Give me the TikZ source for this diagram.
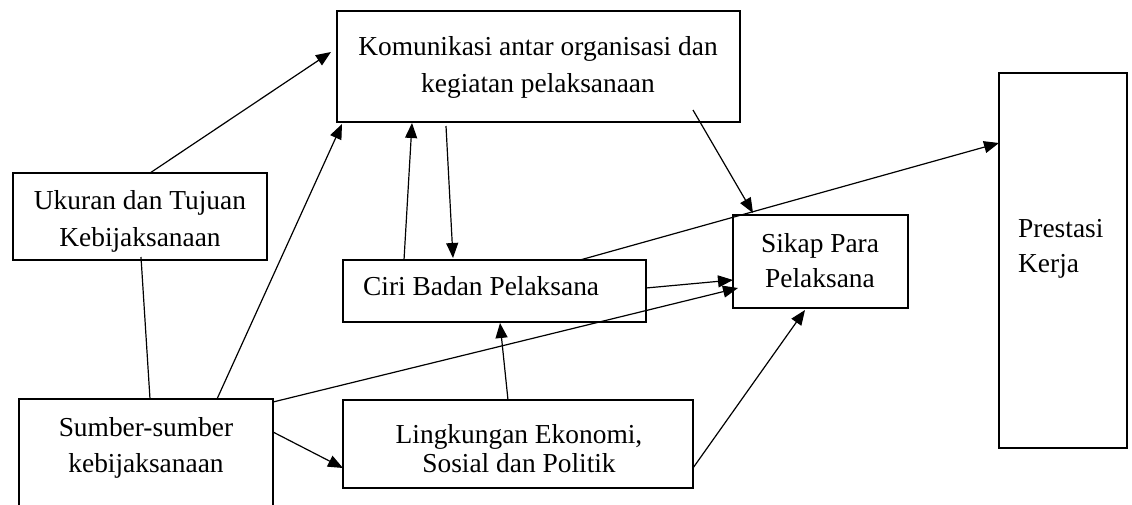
\documentclass[tikz,border=0pt]{standalone}
\usepackage{fontspec}
\setmainfont{Liberation Serif}
\usetikzlibrary{arrows.meta}
\begin{document}
\begin{tikzpicture}[x=1pt,y=-1pt,
  boxnode/.style={draw,line width=1.3pt,rectangle,inner sep=0pt,outer sep=0pt},
  txt/.style={inner sep=0pt,anchor=base,font=\fontsize{27.4}{36}\selectfont},
  txtl/.style={txt,anchor=base west},
  conn/.style={line width=1.2pt},
  arr/.style={conn,-{Triangle[length=15pt,width=12pt]}}]
\useasboundingbox (0,0) rectangle (1132,504);
% boxes
\node[boxnode,minimum width=403pt,minimum height=111pt] (kom) at (538.5,66.5) {};
\node[boxnode,minimum width=254pt,minimum height=87pt] (uk) at (140,216.5) {};
\node[boxnode,minimum width=303pt,minimum height=62pt] (ciri) at (494.5,291) {};
\node[boxnode,minimum width=175pt,minimum height=93pt] (sikap) at (820.5,261.5) {};
\node[boxnode,minimum width=128pt,minimum height=375pt] (pres) at (1063,260.5) {};
\node[boxnode,minimum width=254pt,minimum height=111pt] (sum) at (146,454.5) {};
\node[boxnode,minimum width=350pt,minimum height=88pt] (ling) at (518,444) {};
% texts
\node[txt] (kom1) at (538,55) {Komunikasi antar organisasi dan};
\node[txt] (kom2) at (538,92) {kegiatan pelaksanaan};
\node[txt] (uk1) at (140,209) {Ukuran dan Tujuan};
\node[txt] (uk2) at (140,246) {Kebijaksanaan};
\node[txtl] (ciri1) at (363,295) {Ciri Badan Pelaksana};
\node[txt] (sik1) at (820,252) {Sikap Para};
\node[txt] (sik2) at (820,287) {Pelaksana};
\node[txt] (ling1) at (519,443) {Lingkungan Ekonomi,};
\node[txt] (ling2) at (519,472) {Sosial dan Politik};
\node[txt] (sum1) at (146,436) {Sumber-sumber};
\node[txt] (sum2) at (146,472) {kebijaksanaan};
\node[txtl] (pres1) at (1018,237) {Prestasi};
\node[txtl] (pres2) at (1018,272) {Kerja};
% connectors
\draw[arr] ([shift={(137,0)}]uk.north west) -- ([shift={(-6,41)}]kom.north west);
\draw[conn] ([shift={(128,84)}]uk.north west) -- ([shift={(131,0)}]sum.north west);
\draw[arr] ([shift={(198,0)}]sum.north west) -- ([shift={(5,113)}]kom.north west);
\draw[arr] ([shift={(61,0)}]ciri.north west) -- ([shift={(75,112)}]kom.north west);
\draw[arr] ([shift={(109,115)}]kom.north west) -- ([shift={(110,-2)}]ciri.north west);
\draw[arr] ([shift={(356,99)}]kom.north west) -- ([shift={(20,-2)}]sikap.north west);
\draw[arr] ([shift={(237,0)}]ciri.north west) -- ([shift={(0,70)}]pres.north west);
\draw[arr] ([shift={(303,28)}]ciri.north west) -- ([shift={(0,65)}]sikap.north west);
\draw[arr] ([shift={(254,3)}]sum.north west) -- ([shift={(5,73)}]sikap.north west);
\draw[arr] ([shift={(165,0)}]ling.north west) -- ([shift={(157,63)}]ciri.north west);
\draw[arr] ([shift={(254,33)}]sum.north west) -- ([shift={(0,68)}]ling.north west);
\draw[arr] ([shift={(350,68)}]ling.north west) -- ([shift={(72,95)}]sikap.north west);
\end{tikzpicture}
\end{document}
